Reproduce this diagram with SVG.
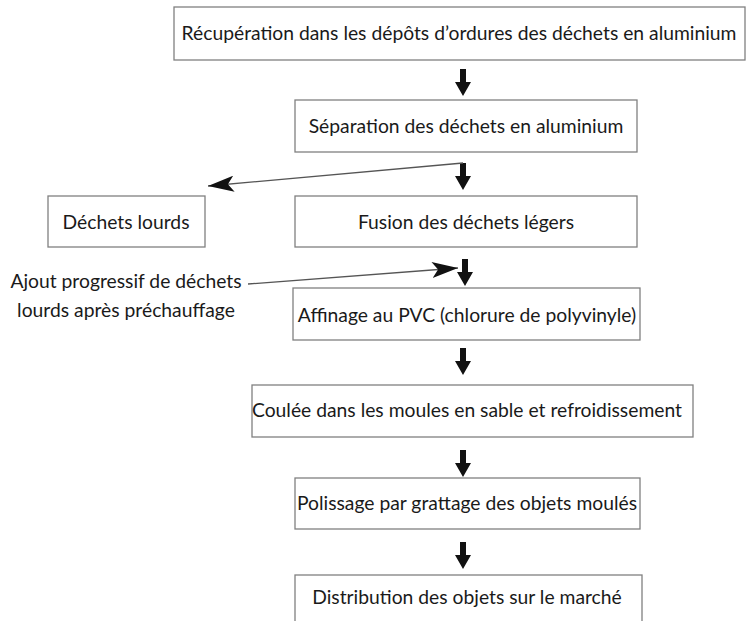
<svg xmlns="http://www.w3.org/2000/svg" width="747" height="621" viewBox="0 0 747 621">
<defs>
<style>
.box{fill:#fff;stroke:#808080;stroke-width:1.3}
.t{font-family:Lato,"Open Sans","Liberation Sans",sans-serif;font-size:19.3px;fill:#1a1a1a;text-anchor:middle}
.thin{stroke:#555;stroke-width:1.3;fill:none}
.dn{fill:#111}
</style>
<marker id="tri" markerWidth="28" markerHeight="16" refX="26" refY="8" orient="auto" markerUnits="userSpaceOnUse">
<path d="M0,0 L26,8 L0,16 L6,8 Z" fill="#111"/>
</marker>
<path id="da" d="M-3,0 H3 V13 H8 L0,27 L-8,13 H-3 Z"/>
</defs>
<rect width="747" height="621" fill="#fff"/>
<g id="n1"><rect class="box" x="174" y="7" width="571" height="53"/><text class="t" x="459" y="40">Récupération dans les dépôts d’ordures des déchets en aluminium</text></g>
<g id="n2"><rect class="box" x="295" y="100" width="342" height="52"/><text class="t" x="466" y="133">Séparation des déchets en aluminium</text></g>
<g id="n3"><rect class="box" x="48" y="196" width="157" height="51"/><text class="t" x="126" y="229">Déchets lourds</text></g>
<g id="n4"><rect class="box" x="295" y="196" width="342" height="51"/><text class="t" x="466" y="229">Fusion des déchets légers</text></g>
<g id="n5"><text class="t" x="126" y="288">Ajout progressif de déchets</text><text class="t" x="126" y="317">lourds après préchauffage</text></g>
<g id="n6"><rect class="box" x="293" y="288" width="347" height="52"/><text class="t" x="467" y="322">Affinage au PVC (chlorure de polyvinyle)</text></g>
<g id="n7"><rect class="box" x="252" y="385" width="441" height="52"/><text class="t" x="467" y="417">Coulée dans les moules en sable et refroidissement</text></g>
<g id="n8"><rect class="box" x="295" y="478" width="345" height="51"/><text class="t" x="467" y="510">Polissage par grattage des objets moulés</text></g>
<g id="n9"><rect class="box" x="295" y="575" width="347" height="60"/><text class="t" x="467" y="604">Distribution des objets sur le marché</text></g>
<g id="connectors">
<use href="#da" class="dn" x="463" y="69"/>
<use href="#da" class="dn" x="463" y="163"/>
<use href="#da" class="dn" x="465" y="259"/>
<use href="#da" class="dn" x="463" y="348"/>
<use href="#da" class="dn" x="463" y="450"/>
<use href="#da" class="dn" x="463" y="542"/>
<line class="thin" x1="463" y1="163" x2="208" y2="186" marker-end="url(#tri)"/>
<line class="thin" x1="248" y1="284" x2="458" y2="268" marker-end="url(#tri)"/>
</g>
</svg>
